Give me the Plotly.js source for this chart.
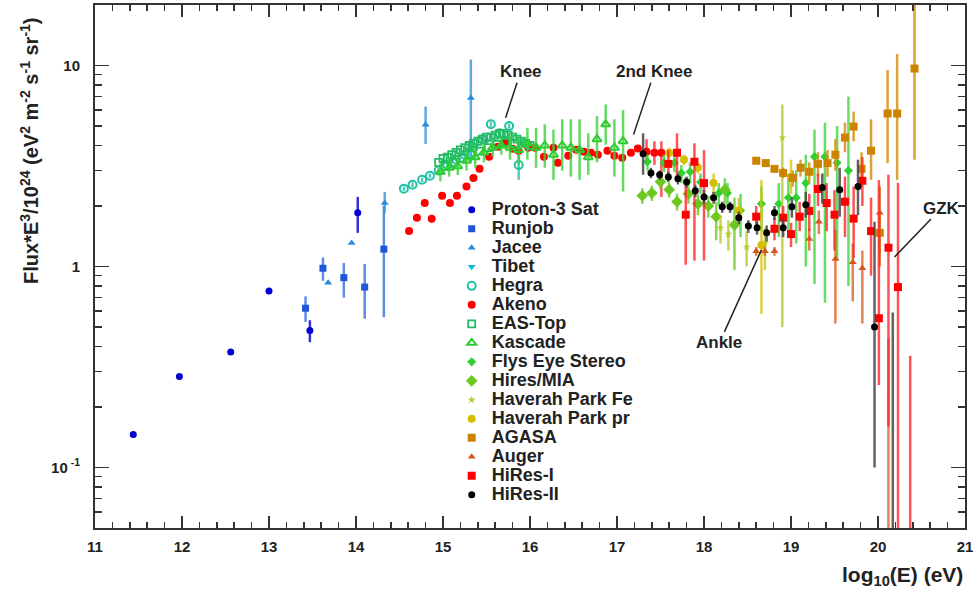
<!DOCTYPE html>
<html><head><meta charset="utf-8">
<script src="https://cdn.plot.ly/plotly-3.0.1.min.js"></script>
<style>html,body{margin:0;padding:0;background:#fff}#chart{width:979px;height:596px}</style>
</head><body><div id="chart"></div>
<script>
// ---------------- data (x = log10(E/eV), y = Flux*E^3/1e24) ----------------
const protonX = [11.44, 11.97, 12.56, 13.00, 13.47, 14.02];
const protonY = [0.146, 0.284, 0.375, 0.755, 0.48, 1.85];
const protonHi = [0.146, 0.284, 0.375, 0.755, 0.54, 2.22];
const protonLo = [0.146, 0.284, 0.375, 0.755, 0.42, 1.47];

const runjobX = [13.42, 13.62, 13.86, 14.10, 14.32];
const runjobY = [0.62, 0.98, 0.88, 0.79, 1.22];
const runjobHi = [0.71, 1.11, 1.04, 1.03, 2.0];
const runjobLo = [0.53, 0.85, 0.70, 0.55, 0.56];

const jaceeX = [13.68, 13.95, 14.33, 14.80, 15.32];
const jaceeY = [0.83, 1.31, 2.07, 5.08, 6.9];
const jaceeHi = [0.83, 1.31, 2.35, 6.25, 10.7];
const jaceeLo = [0.83, 1.31, 1.85, 4.07, 3.3];

const tibetX = [15.10, 15.30, 15.50, 15.70, 15.90];
const tibetY = [3.4, 3.8, 4.2, 4.3, 4.1];

const hegraX = [14.55, 14.65, 14.76, 14.85, 14.95, 15.05, 15.15, 15.25, 15.35, 15.45, 15.55, 15.65, 15.76, 15.87];
const hegraY = [2.44, 2.55, 2.70, 2.83, 3.00, 3.20, 3.40, 3.60, 3.90, 4.30, 5.10, 4.60, 5.00, 3.20];
const hegraHi = [2.5, 2.62, 2.77, 2.9, 3.08, 3.28, 3.48, 3.7, 4.0, 4.4, 5.25, 4.75, 5.15, 3.8];
const hegraLo = [2.38, 2.48, 2.63, 2.76, 2.92, 3.12, 3.32, 3.5, 3.8, 4.2, 4.95, 4.45, 4.85, 2.7];

const akenoX = [14.61, 14.70, 14.79, 14.87, 14.99, 15.08, 15.16, 15.27, 15.35, 15.42, 15.53, 15.63, 15.73, 15.80, 15.87, 15.98, 16.06, 16.16, 16.27, 16.32, 16.44, 16.53, 16.62, 16.70, 16.78, 16.89, 16.97, 17.06, 17.16, 17.24, 17.34, 17.43, 17.51];
const akenoY = [1.50, 1.75, 2.07, 1.73, 2.25, 2.07, 2.25, 2.50, 2.76, 3.06, 3.52, 3.94, 4.18, 3.85, 3.77, 3.90, 3.90, 3.52, 3.90, 3.28, 3.56, 3.81, 3.72, 3.68, 3.60, 3.77, 3.56, 3.48, 3.68, 3.86, 3.72, 3.68, 3.68];
const akenoHi = [1.50, 1.75, 2.07, 1.73, 2.25, 2.07, 2.25, 2.50, 2.76, 3.06, 3.52, 3.94, 4.18, 3.85, 3.77, 3.90, 3.90, 3.52, 3.90, 3.28, 3.56, 3.81, 3.72, 3.68, 3.60, 3.77, 3.56, 3.48, 3.68, 3.95, 4.3, 4.2, 4.2];
const akenoLo = [1.50, 1.75, 2.07, 1.73, 2.25, 2.07, 2.25, 2.50, 2.76, 3.06, 3.52, 3.94, 4.18, 3.85, 3.77, 3.90, 3.90, 3.52, 3.90, 3.28, 3.56, 3.81, 3.72, 3.68, 3.60, 3.77, 3.56, 3.48, 3.68, 3.75, 3.2, 3.2, 2.22];

const eastopX = [14.95, 15.00, 15.05, 15.10, 15.15, 15.20, 15.25, 15.30, 15.35, 15.40, 15.45, 15.50, 15.55, 15.60, 15.65, 15.70, 15.75, 15.80, 15.85, 15.90, 15.95, 16.00, 15.02, 15.12, 15.22, 15.32, 15.42, 15.52, 15.62, 15.72, 15.82];
const eastopY = [3.30, 3.45, 3.50, 3.60, 3.70, 3.80, 3.90, 4.00, 4.10, 4.20, 4.30, 4.40, 4.40, 4.50, 4.60, 4.60, 4.50, 4.40, 4.30, 4.20, 4.10, 4.00, 3.15, 3.30, 3.45, 3.60, 3.75, 3.90, 4.05, 4.15, 4.10];

const kascadeX = [14.97, 15.07, 15.17, 15.27, 15.37, 15.47, 15.57, 15.67, 15.77, 15.87, 15.97, 16.07, 16.17, 16.27, 16.37, 16.47, 16.57, 16.67, 16.77, 16.87, 16.97, 17.07];
const kascadeY = [2.96, 3.10, 3.15, 3.36, 3.50, 3.70, 3.90, 4.00, 3.90, 3.80, 4.10, 3.90, 4.00, 3.60, 4.00, 3.90, 3.80, 3.50, 4.30, 5.10, 3.90, 4.20];
const kascadeHi = [3.3, 3.45, 3.5, 3.75, 3.9, 4.1, 4.3, 4.4, 4.5, 4.5, 4.9, 4.9, 5.1, 4.8, 5.4, 5.4, 5.4, 4.6, 5.6, 6.4, 5.4, 6.0];
const kascadeLo = [2.65, 2.8, 2.85, 3.0, 3.1, 3.3, 3.5, 3.6, 3.4, 3.2, 3.4, 3.1, 3.1, 2.7, 3.0, 2.8, 2.7, 2.86, 3.3, 4.04, 2.8, 2.36];

const flysX = [17.35, 17.54, 17.66, 17.74, 17.84, 17.96, 18.17, 18.27, 18.42, 18.66, 18.86, 18.97, 19.06, 19.17, 19.27, 19.39, 19.53, 19.66];
const flysY = [3.32, 3.28, 3.28, 2.92, 2.96, 2.63, 2.32, 2.32, 1.90, 2.05, 2.05, 2.20, 2.20, 2.60, 3.52, 3.52, 3.28, 3.00];
const flysHi = [3.6, 3.6, 3.6, 3.2, 3.3, 2.9, 2.6, 2.6, 2.3, 2.5, 2.6, 2.9, 3.0, 3.6, 4.8, 5.2, 5.0, 7.0];
const flysLo = [3.0, 2.95, 2.95, 2.6, 2.6, 2.3, 2.0, 2.0, 1.4, 1.5, 1.4, 1.5, 1.3, 1.0, 0.82, 0.66, 1.07, 0.8];

const miaX = [17.29, 17.40, 17.50, 17.60, 17.69, 17.82, 17.93, 18.05, 18.14, 18.24, 18.35];
const miaY = [2.25, 2.32, 2.64, 2.41, 2.10, 2.30, 2.05, 2.00, 1.77, 2.41, 1.61];
const miaHi = [2.45, 2.52, 2.85, 2.62, 2.3, 2.55, 2.3, 2.25, 2.1, 2.75, 2.2];
const miaLo = [2.05, 2.12, 2.43, 2.2, 1.9, 2.05, 1.8, 1.75, 1.35, 2.05, 0.96];

const hpFeX = [18.19, 18.28, 18.49, 18.70, 18.90];
const hpFeY = [1.56, 1.45, 1.25, 1.30, 4.37];
const hpFeHi = [1.8, 1.7, 1.5, 1.55, 6.4];
const hpFeLo = [1.3, 1.2, 1.0, 0.96, 0.5];

const hpPrX = [17.60, 17.77, 17.93, 18.11, 18.40, 18.66, 19.00];
const hpPrY = [3.68, 3.40, 3.10, 2.60, 1.90, 1.28, 2.79];
const hpPrHi = [3.9, 3.6, 3.3, 2.9, 2.2, 2.7, 3.4];
const hpPrLo = [3.45, 3.2, 2.9, 2.3, 1.6, 0.58, 2.3];

const agasaX = [18.60, 18.71, 18.81, 18.91, 19.02, 19.11, 19.21, 19.31, 19.42, 19.51, 19.62, 19.72, 19.81, 19.92, 20.02, 20.11, 20.22, 20.42];
const agasaY = [3.36, 3.27, 3.06, 2.92, 2.76, 3.10, 2.96, 3.24, 3.27, 3.60, 4.38, 4.97, 3.06, 3.77, 1.47, 5.77, 5.77, 9.66];
const agasaHi = [3.45, 3.36, 3.15, 3.1, 3.0, 3.4, 3.3, 3.7, 3.8, 4.3, 5.2, 5.9, 3.7, 5.4, 1.85, 9.5, 11.4, 20.5];
const agasaLo = [3.27, 3.18, 2.97, 2.75, 2.5, 2.8, 2.6, 2.8, 2.8, 3.0, 3.7, 4.2, 2.5, 2.7, 1.15, 3.27, 2.7, 3.4];

const augerX = [18.60, 18.70, 18.81, 19.21, 19.32, 19.51, 19.71, 19.82, 20.02, 20.12];
const augerY = [1.19, 1.19, 1.19, 1.37, 1.67, 1.09, 1.05, 0.98, 1.85, 0.03];
const augerHi = [1.25, 1.25, 1.25, 1.55, 1.9, 1.52, 1.3, 1.2, 2.5, 0.44];
const augerLo = [1.13, 1.13, 1.13, 1.2, 1.45, 0.52, 0.67, 0.52, 1.0, 0.001];

const hires1X = [17.59, 17.69, 17.79, 17.89, 18.00, 18.60, 18.81, 18.91, 19.00, 19.10, 19.21, 19.31, 19.41, 19.50, 19.62, 19.72, 19.82, 19.92, 20.01, 20.12, 20.23, 20.37];
const hires1Y = [3.24, 3.68, 1.81, 3.32, 2.60, 1.77, 1.54, 1.75, 1.45, 1.77, 1.89, 2.43, 2.07, 1.81, 2.10, 1.73, 2.67, 1.50, 0.553, 1.24, 0.79, 0.03];
const hires1Hi = [3.8, 4.6, 2.76, 4.1, 3.8, 2.0, 1.75, 2.0, 1.65, 2.1, 2.3, 2.9, 2.6, 2.4, 2.8, 2.5, 3.5, 2.2, 2.69, 2.86, 2.6, 0.36];
const hires1Lo = [2.9, 2.76, 1.02, 1.07, 1.07, 1.55, 1.35, 1.5, 1.25, 1.5, 1.5, 2.0, 1.5, 1.2, 1.4, 1.1, 2.0, 0.9, 0.257, 0.16, 0.01, 0.001];

const hires2X = [17.30, 17.39, 17.49, 17.59, 17.70, 17.80, 17.90, 18.00, 18.11, 18.21, 18.30, 18.40, 18.51, 18.61, 18.72, 18.81, 18.91, 19.01, 19.17, 19.36, 19.56, 19.77, 19.96, 20.17];
const hires2Y = [3.64, 2.92, 2.86, 2.79, 2.73, 2.63, 2.38, 2.22, 2.20, 1.98, 1.98, 1.75, 1.59, 1.56, 1.47, 1.85, 1.56, 1.98, 2.03, 2.47, 2.41, 2.50, 0.50, 0.03];
const hires2Hi = [4.6, 3.1, 3.0, 2.95, 2.9, 2.8, 2.55, 2.4, 2.35, 2.1, 2.1, 1.88, 1.7, 1.68, 1.6, 2.0, 1.72, 2.2, 2.35, 2.9, 3.1, 3.4, 1.67, 0.59];
const hires2Lo = [2.86, 2.75, 2.7, 2.63, 2.56, 2.47, 2.22, 2.05, 2.05, 1.85, 1.85, 1.62, 1.47, 1.44, 1.33, 1.7, 1.4, 1.75, 1.75, 2.05, 1.77, 1.8, 0.1, 0.001];

// tick labels
const xTickVals = [11, 12, 13, 14, 15, 16, 17, 18, 19, 20, 21];
const xTickText = ['11', '12', '13', '14', '15', '16', '17', '18', '19', '20', '21'];
const yTickVals = [0.1, 1, 10];
const yTickText = ['10<sup> -1</sup>', '1', '10'];

// ---------------- build ----------------
const FONT = 'Liberation Sans, Arial, Helvetica, sans-serif';
const LBL = n => '<span style="font-size:18px">' + n + '</span>';

function series(name, x, y, hi, lo, st) {
  const t = {
    type: 'scatter', mode: 'markers', name: LBL(name), x: x, y: y,
    marker: { symbol: st.symbol, size: st.size, color: st.color,
              line: { width: st.lw || 0, color: st.color } },
    hoverinfo: 'x+y+name'
  };
  if (hi) {
    t.error_y = { type: 'data', symmetric: false,
      array: y.map((v, i) => Math.max(hi[i] - v, 0)),
      arrayminus: y.map((v, i) => Math.max(v - lo[i], 0)),
      color: st.ecolor || st.color, thickness: st.et || 2.5, width: 0 };
  }
  return t;
}

const data = [
  series('Proton-3 Sat', protonX, protonY, protonHi, protonLo, {symbol: 'circle', size: 7, color: '#0000d0', ecolor: 'rgba(0,0,200,0.8)'}),
  series('Runjob', runjobX, runjobY, runjobHi, runjobLo, {symbol: 'square', size: 7, color: '#1f55d6', ecolor: 'rgba(40,100,220,0.75)'}),
  series('Jacee', jaceeX, jaceeY, jaceeHi, jaceeLo, {symbol: 'triangle-up', size: 7, color: '#2a8ad8', ecolor: 'rgba(50,150,220,0.8)'}),
  series('Tibet', tibetX, tibetY, null, null, {symbol: 'triangle-down', size: 7, color: '#10b8d8'}),
  series('Hegra', hegraX, hegraY, hegraHi, hegraLo, {symbol: 'circle-open', size: 8, lw: 2, color: '#22c2a6', ecolor: 'rgba(34,194,166,0.8)'}),
  series('Akeno', akenoX, akenoY, akenoHi, akenoLo, {symbol: 'circle', size: 8, color: '#ff0000', ecolor: 'rgba(255,30,30,0.75)'}),
  series('EAS-Top', eastopX, eastopY, null, null, {symbol: 'square-open', size: 7, lw: 1.8, color: '#22bb66'}),
  series('Kascade', kascadeX, kascadeY, kascadeHi, kascadeLo, {symbol: 'triangle-up-open', size: 8, lw: 2, color: '#2ecc2e', ecolor: 'rgba(60,210,60,0.8)'}),
  series('Flys Eye Stereo', flysX, flysY, flysHi, flysLo, {symbol: 'diamond', size: 7, color: '#30d030', ecolor: 'rgba(60,215,60,0.8)'}),
  series('Hires/MIA', miaX, miaY, miaHi, miaLo, {symbol: 'diamond', size: 9, color: '#6cc820', ecolor: 'rgba(110,200,40,0.8)'}),
  series('Haverah Park Fe', hpFeX, hpFeY, hpFeHi, hpFeLo, {symbol: 'star', size: 6, color: '#b4cc30', ecolor: 'rgba(190,205,50,0.85)'}),
  series('Haverah Park pr', hpPrX, hpPrY, hpPrHi, hpPrLo, {symbol: 'circle', size: 8, color: '#d4bf00', ecolor: 'rgba(215,195,20,0.8)'}),
  series('AGASA', agasaX, agasaY, agasaHi, agasaLo, {symbol: 'square', size: 8, color: '#cc8400', ecolor: 'rgba(215,145,20,0.85)'}),
  series('Auger', augerX, augerY, augerHi, augerLo, {symbol: 'triangle-up', size: 7, color: '#d8561e', ecolor: 'rgba(220,100,40,0.8)'}),
  series('HiRes-I', hires1X, hires1Y, hires1Hi, hires1Lo, {symbol: 'square', size: 8, color: '#ff0000', ecolor: 'rgba(255,40,40,0.8)'}),
  series('HiRes-II', hires2X, hires2Y, hires2Hi, hires2Lo, {symbol: 'circle', size: 7, color: '#000000', ecolor: 'rgba(70,70,70,0.85)'})
];

const xMinor = [];
for (let v = 11.2; v < 21; v += 0.2) xMinor.push(+v.toFixed(1));
const yMinor = [];
[0.01, 0.1, 1, 10].forEach(d => { for (let k = 2; k <= 9; k++) { const v = k * d; if (v >= 0.05 && v <= 20) yMinor.push(+v.toPrecision(2)); } });

const axisCommon = {
  showline: true, linewidth: 2, linecolor: '#333', mirror: 'ticks',
  ticks: 'inside', tickcolor: '#333', tickwidth: 1.5,
  showgrid: false, zeroline: false,
  tickfont: { family: FONT, size: 15, color: '#222', weight: 'bold' }
};

const ann = (text, x, y, ax, ay) => ({
  text: text, x: x, y: Math.log10(y), xref: 'x', yref: 'y', ax: ax, ay: ay,
  showarrow: true, arrowhead: 0, arrowwidth: 1.5, arrowcolor: '#222', standoff: 0, startstandoff: 0,
  font: { family: FONT, size: 17, color: '#222', weight: 'bold' }
});

const layout = {
  width: 979, height: 596,
  margin: { l: 95, r: 14, t: 5, b: 68 },
  paper_bgcolor: '#fff', plot_bgcolor: '#fff',
  showlegend: true,
  legend: {
    x: 0.41, xanchor: 'left', y: 0.636, yanchor: 'top',
    bgcolor: 'rgba(0,0,0,0)', borderwidth: 0,
    font: { family: FONT, size: 12, color: '#222', weight: 'bold' },
    tracegroupgap: 0
  },
  xaxis: Object.assign({}, axisCommon, {
    range: [11, 21], tickmode: 'array', tickvals: xTickVals, ticktext: xTickText, ticklen: 12,
    ticklabelstandoff: 4,
    minor: { tickmode: 'array', tickvals: xMinor, ticks: 'inside', ticklen: 6, tickcolor: '#333', tickwidth: 1.5 }
  }),
  yaxis: Object.assign({}, axisCommon, {
    type: 'log', range: [Math.log10(0.05), Math.log10(20)], tickmode: 'array',
    tickvals: yTickVals, ticktext: yTickText, ticklen: 14, ticklabelstandoff: 10,
    minor: { tickmode: 'array', tickvals: yMinor, ticks: 'inside', ticklen: 7, tickcolor: '#333', tickwidth: 1.5 }
  }),
  annotations: [
    ann('Knee', 15.72, 5.5, 15, -46),
    ann('2nd Knee', 17.19, 4.53, 21, -63),
    ann('Ankle', 18.66, 1.21, -42, 93),
    ann('GZK', 20.19, 1.115, 47, -49),
    { text: 'Flux*E<sup>3</sup>/10<sup>24</sup> (eV<sup>2</sup> m<sup>-2</sup> s<sup>-1</sup> sr<sup>-1</sup>)',
      xref: 'paper', yref: 'paper', x: -0.0747, y: 0.721, textangle: -90, showarrow: false,
      xanchor: 'center', yanchor: 'middle',
      font: { family: FONT, size: 20, color: '#222', weight: 'bold' } },
    { text: 'log<sub>10</sub>(E) (eV)', xref: 'paper', yref: 'paper', x: 1.0, y: -0.092,
      xanchor: 'right', yanchor: 'middle', showarrow: false,
      font: { family: FONT, size: 21, color: '#222', weight: 'bold' } }
  ]
};

Plotly.newPlot('chart', data, layout, { displayModeBar: false, staticPlot: true });
</script>
</body></html>
